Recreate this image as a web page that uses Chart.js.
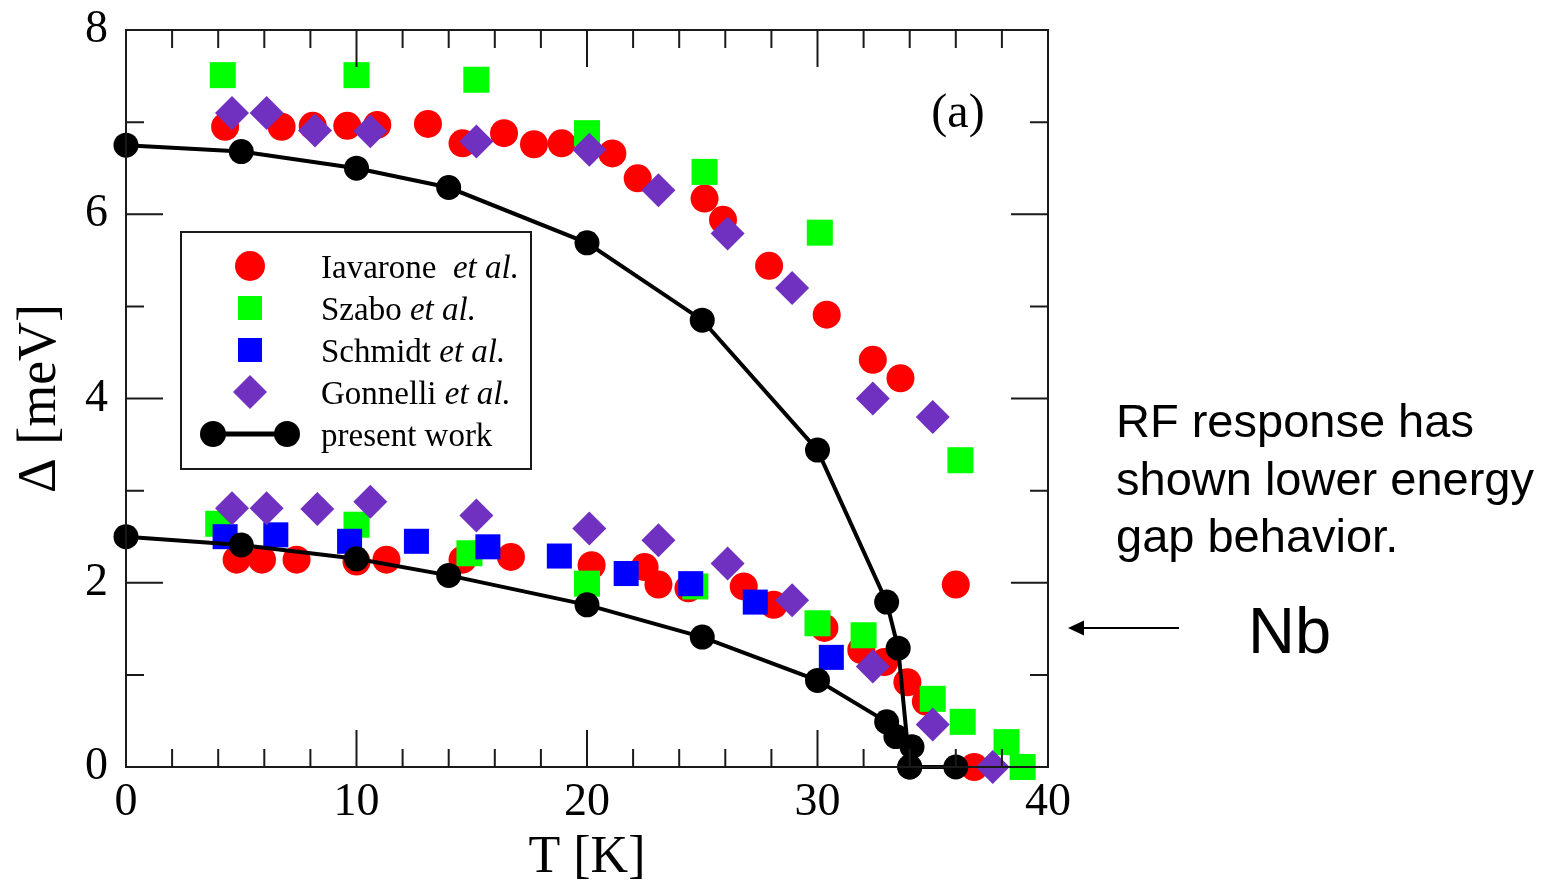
<!DOCTYPE html>
<html>
<head>
<meta charset="utf-8">
<title>Gap vs temperature</title>
<script src="https://cdn.jsdelivr.net/npm/chart.js@4.4.1/dist/chart.umd.min.js"></script>
<style>
  body { margin: 0; background: #fff; }
  #wrap { position: relative; width: 1557px; height: 890px; }
  .note { position: absolute; font-family: "Liberation Sans", Arial, sans-serif; color: #000; white-space: nowrap; }
</style>
</head>
<body>
<div id="wrap">
  <canvas id="gapChart"></canvas>
  <div class="note" style="left:1116px; top:392px; font-size:47px; line-height:57.5px;">RF response has<br>shown lower energy<br>gap behavior.</div>
  <div class="note" style="left:1248px; top:598px; font-size:65px; line-height:65px;">Nb</div>
  <svg width="1557" height="890" style="position:absolute; left:0; top:0; pointer-events:none;">
    <line x1="1179" y1="628" x2="1080" y2="628" stroke="#000" stroke-width="2"/>
    <polygon points="1068,628 1084,620.5 1084,635.5" fill="#000"/>
  </svg>
</div>
<script>
const serif = "'Liberation Serif', 'Times New Roman', serif";

// Iavarone et al. (upper gap, then lower gap)
const iavaroneT   = [4.3, 6.75, 8.1, 9.6, 10.9, 13.1, 14.6, 16.4, 17.7, 18.9, 21.1, 22.2, 25.1, 25.9, 27.9, 30.4, 32.4, 33.6, 36.0,
                     4.8, 5.9, 7.4, 10.0, 11.3, 14.6, 16.7, 20.2, 22.5, 23.1, 24.4, 26.8, 28.1, 30.3, 31.9, 32.9, 33.9, 34.7, 36.8];
const iavaroneGap = [6.95, 6.95, 6.96, 6.96, 6.97, 6.98, 6.77, 6.88, 6.76, 6.77, 6.66, 6.39, 6.17, 5.94, 5.44, 4.91, 4.42, 4.22, 1.98,
                     2.25, 2.25, 2.25, 2.23, 2.25, 2.25, 2.28, 2.19, 2.17, 1.98, 1.94, 1.96, 1.76, 1.51, 1.27, 1.14, 0.92, 0.71, 0.0];

// Szabo et al.
const szaboT   = [4.2, 10.0, 15.2, 20.0, 25.1, 30.1, 36.2, 4.0, 10.0, 14.9, 20.0, 24.7, 30.0, 32.0, 35.0, 36.3, 38.2, 38.9];
const szaboGap = [7.51, 7.51, 7.46, 6.88, 6.46, 5.80, 3.33, 2.64, 2.63, 2.32, 1.99, 1.96, 1.56, 1.43, 0.74, 0.49, 0.27, 0.0];

// Schmidt et al.
const schmidtT   = [4.3, 6.5, 9.7, 12.6, 15.7, 18.8, 21.7, 24.5, 27.3, 30.6];
const schmidtGap = [2.50, 2.52, 2.45, 2.45, 2.39, 2.29, 2.10, 1.99, 1.79, 1.19];

// Gonnelli et al.
const gonnelliT   = [4.6, 6.1, 8.2, 10.6, 15.2, 20.1, 23.1, 26.1, 28.9, 32.4, 35.0,
                     4.6, 6.1, 8.3, 10.6, 15.2, 20.1, 23.1, 26.1, 28.9, 32.4, 35.0, 37.6];
const gonnelliGap = [7.10, 7.10, 6.91, 6.90, 6.79, 6.70, 6.26, 5.79, 5.20, 4.00, 3.80,
                     2.81, 2.81, 2.80, 2.88, 2.73, 2.59, 2.46, 2.21, 1.81, 1.09, 0.46, 0.0];

// present work, two gaps
const presentUpperT   = [0, 5, 10, 14, 20, 25, 30, 33.0, 33.5, 34.0];
const presentUpperGap = [6.75, 6.68, 6.50, 6.29, 5.69, 4.85, 3.44, 1.79, 1.29, 0.0];
const presentLowerT   = [0, 5, 10, 14, 20, 25, 30, 33.0, 33.4, 34.1, 34.0, 36.0];
const presentLowerGap = [2.50, 2.41, 2.26, 2.08, 1.76, 1.41, 0.94, 0.49, 0.33, 0.22, 0.0, 0.0];

const xTicks = [0, 10, 20, 30, 40];
const yTicks = [0, 2, 4, 6, 8];

function toPoints(xs, ys) {
  return xs.map((t, i) => ({ x: t, y: ys[i] }));
}

function marker(ctx, style, color, r, x, y) {
  ctx.fillStyle = color;
  ctx.beginPath();
  if (style === 'circle') {
    ctx.arc(x, y, r, 0, Math.PI * 2);
  } else if (style === 'rect') {
    const s = r * Math.SQRT1_2;
    ctx.rect(x - s, y - s, 2 * s, 2 * s);
  } else {
    ctx.moveTo(x - r, y); ctx.lineTo(x, y - r); ctx.lineTo(x + r, y); ctx.lineTo(x, y + r); ctx.closePath();
  }
  ctx.fill();
}

const frameAndTicks = {
  id: 'frameAndTicks',
  afterDatasetsDraw(chart) {
    const { ctx, chartArea: a, scales: { x, y } } = chart;
    ctx.save();
    ctx.strokeStyle = '#1a1a1a';
    ctx.lineWidth = 2;
    ctx.strokeRect(a.left, a.top, a.right - a.left, a.bottom - a.top);
    ctx.beginPath();
    for (let t = x.min; t <= x.max; t += 2) {
      const px = x.getPixelForValue(t);
      const len = xTicks.includes(t) ? 37 : 18;
      ctx.moveTo(px, a.bottom); ctx.lineTo(px, a.bottom - len);
      ctx.moveTo(px, a.top); ctx.lineTo(px, a.top + len);
    }
    for (let d = y.min; d <= y.max; d += 1) {
      const py = y.getPixelForValue(d);
      const len = yTicks.includes(d) ? 37 : 18;
      ctx.moveTo(a.left, py); ctx.lineTo(a.left + len, py);
      ctx.moveTo(a.right, py); ctx.lineTo(a.right - len, py);
    }
    ctx.stroke();
    ctx.restore();
  }
};

const legendBox = {
  id: 'legendBox',
  afterDraw(chart) {
    const { ctx, chartArea: a } = chart;
    const bx = a.left + 55, by = a.top + 202, bw = 350, bh = 237;
    ctx.save();
    ctx.fillStyle = '#fff';
    ctx.fillRect(bx, by, bw, bh);
    ctx.strokeStyle = '#1a1a1a';
    ctx.lineWidth = 2;
    ctx.strokeRect(bx, by, bw, bh);

    const rows = [
      { name: 'Iavarone', gap: '  ', style: 'circle', color: '#ff0000', r: 15 },
      { name: 'Szabo', gap: ' ', style: 'rect', color: '#00ff00', r: 17 },
      { name: 'Schmidt', gap: ' ', style: 'rect', color: '#0000ff', r: 17 },
      { name: 'Gonnelli', gap: ' ', style: 'rectRot', color: '#7030c0', r: 17 },
      { name: 'present work', gap: '', style: 'line', color: '#000', r: 13 }
    ];
    const mx = bx + 69, tx = bx + 140;
    rows.forEach((row, i) => {
      const cy = by + 34 + i * 42;
      if (row.style === 'line') {
        ctx.strokeStyle = '#000';
        ctx.lineWidth = 5;
        ctx.beginPath(); ctx.moveTo(mx - 37, cy); ctx.lineTo(mx + 37, cy); ctx.stroke();
        marker(ctx, 'circle', '#000', row.r, mx - 37, cy);
        marker(ctx, 'circle', '#000', row.r, mx + 37, cy);
      } else {
        marker(ctx, row.style, row.color, row.r, mx, cy);
      }
      ctx.fillStyle = '#000';
      ctx.textBaseline = 'alphabetic';
      ctx.textAlign = 'left';
      ctx.font = '33px ' + serif;
      const label = row.name + row.gap;
      ctx.fillText(label, tx, cy + 12);
      if (row.style !== 'line') {
        const w = ctx.measureText(label).width;
        ctx.font = 'italic 33px ' + serif;
        ctx.fillText('et al.', tx + w, cy + 12);
      }
    });

    ctx.font = '48px ' + serif;
    ctx.textAlign = 'center';
    ctx.fillText('(a)', a.left + 832, a.top + 97);
    ctx.restore();
  }
};

const gapctx = document.getElementById('gapChart').getContext('2d');
const gapChart = new Chart(gapctx, {
  type: 'scatter',
  data: {
    datasets: [
      {
        label: 'present work',
        data: toPoints(presentUpperT, presentUpperGap),
        showLine: true,
        borderColor: '#000',
        borderWidth: 4,
        pointBackgroundColor: '#000',
        pointBorderWidth: 0,
        pointRadius: 12.5,
        order: 1
      },
      {
        label: 'present work (lower)',
        data: toPoints(presentLowerT, presentLowerGap),
        showLine: true,
        borderColor: '#000',
        borderWidth: 4,
        pointBackgroundColor: '#000',
        pointBorderWidth: 0,
        pointRadius: 12.5,
        order: 1
      },
      {
        label: 'Gonnelli et al.',
        data: toPoints(gonnelliT, gonnelliGap),
        pointStyle: 'rectRot',
        pointBackgroundColor: '#7030c0',
        pointBorderWidth: 0,
        pointRadius: 17,
        order: 2
      },
      {
        label: 'Schmidt et al.',
        data: toPoints(schmidtT, schmidtGap),
        pointStyle: 'rect',
        pointBackgroundColor: '#0000ff',
        pointBorderWidth: 0,
        pointRadius: 17.7,
        order: 3
      },
      {
        label: 'Szabo et al.',
        data: toPoints(szaboT, szaboGap),
        pointStyle: 'rect',
        pointBackgroundColor: '#00ff00',
        pointBorderWidth: 0,
        pointRadius: 18.4,
        order: 4
      },
      {
        label: 'Iavarone et al.',
        data: toPoints(iavaroneT, iavaroneGap),
        pointStyle: 'circle',
        pointBackgroundColor: '#ff0000',
        pointBorderWidth: 0,
        pointRadius: 14,
        order: 5
      }
    ]
  },
  options: {
    responsive: true,
    maintainAspectRatio: false,
    animation: false,
    datasets: { scatter: { clip: false } },
    layout: { padding: { top: 30, right: 509, bottom: 0, left: 0 } },
    plugins: { legend: { display: false }, tooltip: { enabled: false } },
    scales: {
      x: {
        type: 'linear',
        min: 0,
        max: 40,
        afterBuildTicks(scale) { scale.ticks = xTicks.map(v => ({ value: v })); },
        ticks: { color: '#000', padding: 8, font: { family: serif, size: 46 } },
        grid: { display: false, drawTicks: false },
        border: { display: false },
        title: { display: true, text: 'T [K]', color: '#000', font: { family: serif, size: 52 }, padding: { top: 0, bottom: 0 } },
        afterFit(scale) {
          scale.height = 123;
          scale.paddingLeft = 0; scale.paddingRight = 0;
        }
      },
      y: {
        type: 'linear',
        min: 0,
        max: 8,
        afterBuildTicks(scale) { scale.ticks = yTicks.map(v => ({ value: v })); },
        ticks: { color: '#000', padding: 18, font: { family: serif, size: 46 } },
        grid: { display: false, drawTicks: false },
        border: { display: false },
        title: { display: true, text: 'Δ [meV]', color: '#000', font: { family: serif, size: 54 }, padding: { top: 8, bottom: 0 } },
        afterFit(scale) {
          scale.width = 126;
          scale.paddingTop = 0; scale.paddingBottom = 0;
        }
      }
    }
  },
  plugins: [frameAndTicks, legendBox]
});
</script>
</body>
</html>
